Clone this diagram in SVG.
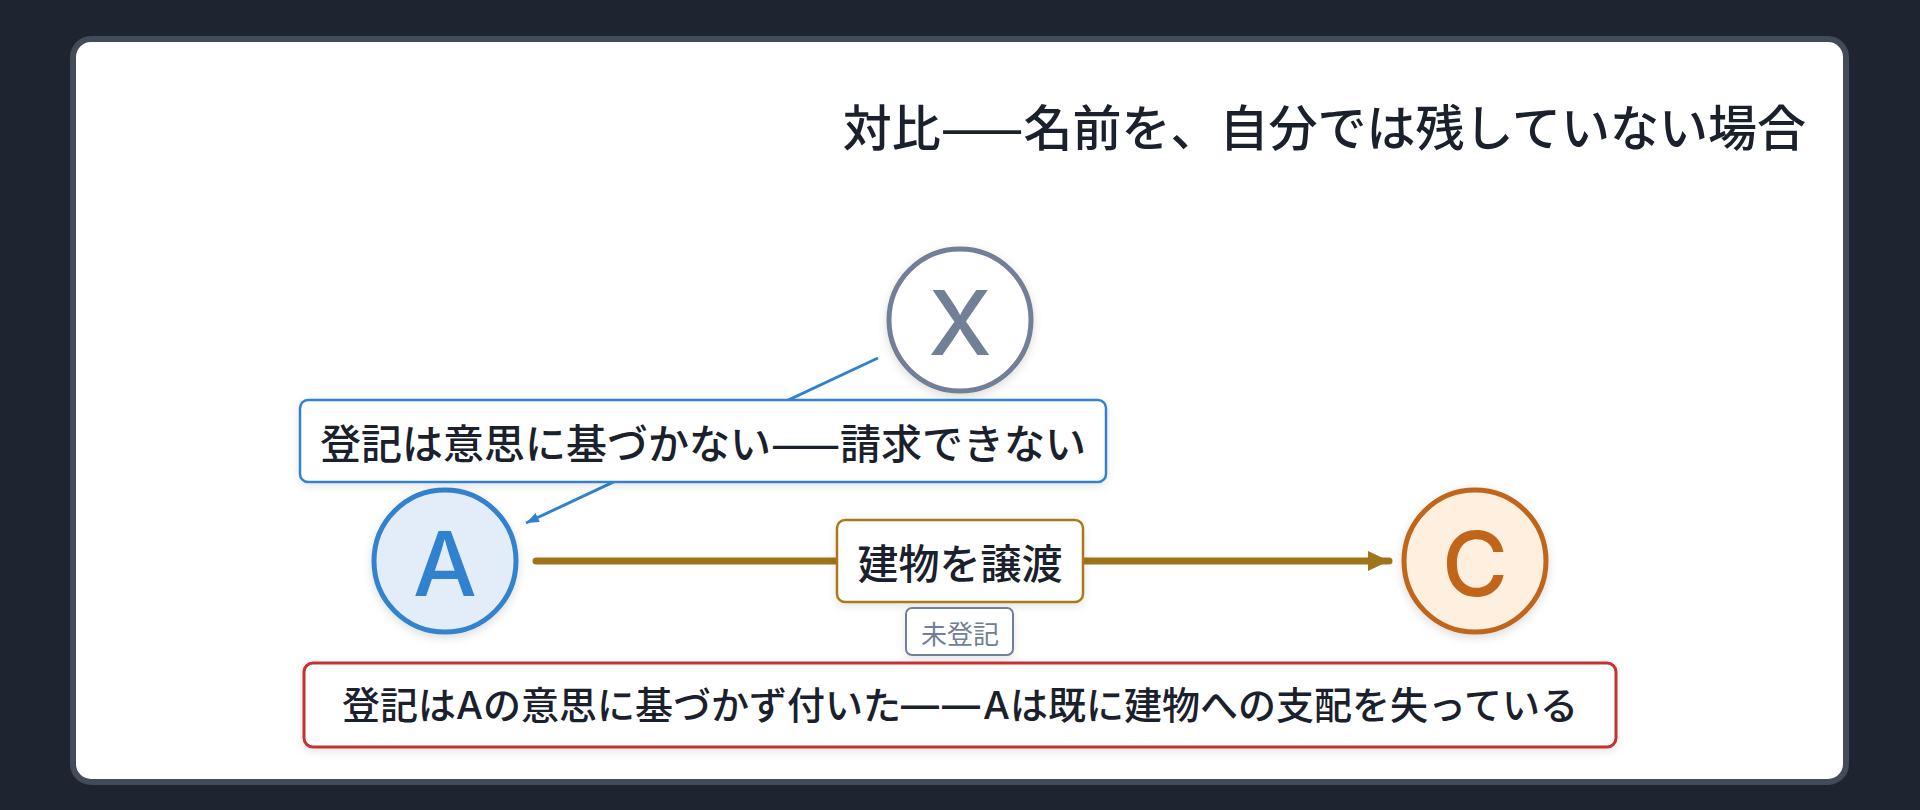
<svg xmlns="http://www.w3.org/2000/svg" width="1920" height="810" viewBox="0 0 1920 810">
  <defs>
    <style>
      .cjk { font-family: "Noto Sans CJK JP", "Noto Sans", sans-serif; }
      .lat { font-family: Inter, "Noto Sans CJK JP", sans-serif; }
      .title { font-size: 49px; font-weight: 500; fill: #1a202c; }
      .lbl { font-size: 41px; font-weight: 500; fill: #1a202c; }
      .node-letter { font-size: 90px; font-weight: 500; }
      .note { font-size: 38px; font-weight: 500; fill: #1a202c; }
      .tag { font-size: 26px; font-weight: 400; fill: #718096; }
    </style>
    <filter id="sh" x="-30%" y="-30%" width="160%" height="160%">
      <feDropShadow dx="0" dy="3" stdDeviation="5" flood-color="#000" flood-opacity="0.14"/>
    </filter>
    <filter id="sh2" x="-10%" y="-30%" width="120%" height="160%">
      <feDropShadow dx="0" dy="3" stdDeviation="4" flood-color="#000" flood-opacity="0.10"/>
    </filter>
    <marker id="arrGold" viewBox="0 0 21 20" refX="21" refY="10" markerWidth="21" markerHeight="20" markerUnits="userSpaceOnUse" orient="auto">
      <path d="M0,0 L21,10 L0,20 Z" fill="#a07418"/>
    </marker>
    <marker id="arrBlue" viewBox="0 0 13 10" refX="13" refY="5" markerWidth="13" markerHeight="10" markerUnits="userSpaceOnUse" orient="auto">
      <path d="M0,0 L13,5 L0,10 Z" fill="#3182ce"/>
    </marker>
  </defs>

  <rect x="0" y="0" width="1920" height="810" fill="#1e2530"/>
  <rect x="73" y="39" width="1773" height="743" rx="18" ry="18" fill="#ffffff" stroke="#424b5a" stroke-width="6"/>

  <text class="cjk title" x="1806" y="124" text-anchor="end" dominant-baseline="central">対比——名前を、自分では残していない場合</text>

  <g id="connectors">
    <line x1="878" y1="358" x2="526" y2="523" stroke="#3182ce" stroke-width="3" marker-end="url(#arrBlue)"/>
    <line x1="536" y1="561" x2="1389" y2="561" stroke="#a07418" stroke-width="7" stroke-linecap="round" marker-end="url(#arrGold)"/>
  </g>

  <g id="node-X">
    <circle cx="960" cy="320" r="71" fill="#ffffff" stroke="#718096" stroke-width="5" filter="url(#sh)"/>
    <text class="lat node-letter" x="960" y="322" fill="#718096" text-anchor="middle" dominant-baseline="central">X</text>
  </g>

  <g id="node-A">
    <circle cx="445" cy="561" r="71" fill="#e3edf9" stroke="#3182ce" stroke-width="5" filter="url(#sh)"/>
    <text class="lat node-letter" x="445" y="563" fill="#3182ce" text-anchor="middle" dominant-baseline="central">A</text>
  </g>

  <g id="node-C">
    <circle cx="1475" cy="561" r="71" fill="#feefdf" stroke="#c0651a" stroke-width="5" filter="url(#sh)"/>
    <text class="lat node-letter" x="1475" y="563" fill="#c0651a" text-anchor="middle" dominant-baseline="central">C</text>
  </g>

  <g id="label-claim">
    <rect x="300" y="400" width="806" height="82" rx="8" ry="8" fill="#ffffff" stroke="#3182ce" stroke-width="2.5" filter="url(#sh2)"/>
    <text class="cjk lbl" x="703" y="441" text-anchor="middle" dominant-baseline="central">登記は意思に基づかない——請求できない</text>
  </g>

  <g id="label-transfer">
    <rect x="837" y="520" width="246" height="82" rx="8" ry="8" fill="#ffffff" stroke="#a97a1c" stroke-width="2.5" filter="url(#sh2)"/>
    <text class="cjk lbl" x="960" y="561" text-anchor="middle" dominant-baseline="central">建物を譲渡</text>
  </g>

  <g id="tag-unregistered">
    <rect x="906" y="608" width="107" height="47" rx="6" ry="6" fill="#ffffff" stroke="#718096" stroke-width="2" filter="url(#sh2)"/>
    <text class="cjk tag" x="960" y="632" text-anchor="middle" dominant-baseline="central">未登記</text>
  </g>

  <g id="note-conclusion">
    <rect x="304" y="663" width="1312" height="84" rx="9" ry="9" fill="#ffffff" stroke="#c53030" stroke-width="3" filter="url(#sh2)"/>
    <text class="lat note" x="960" y="705" text-anchor="middle" dominant-baseline="central">登記はAの意思に基づかず付いた<tspan letter-spacing="3">——</tspan>Aは既に建物への支配を失っている</text>
  </g>
</svg>
